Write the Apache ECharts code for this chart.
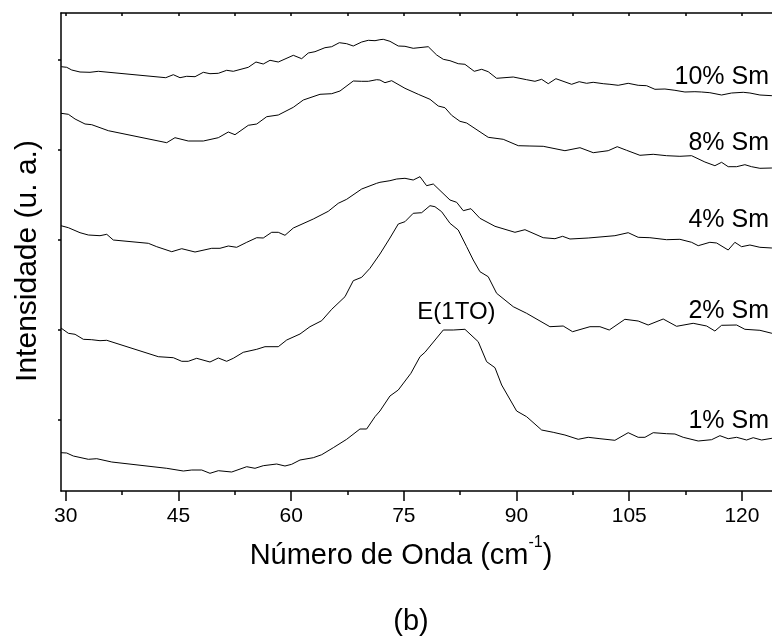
<!DOCTYPE html>
<html>
<head>
<meta charset="utf-8">
<script src="https://cdn.jsdelivr.net/npm/echarts@6/dist/echarts.min.js"></script>
<style>html,body{margin:0;padding:0;background:#fff}#c{width:772px;height:637px}</style>
</head>
<body>
<div id="c"></div>
<script>
// ---- data (x: wavenumber cm^-1, y: intensity a.u., curves offset vertically) ----
const sm10 = [[29.4,35.33],[30.13,35.27],[30.8,35.0],[31.9,34.8],[33.23,34.77],[34.34,34.87],[43.31,34.23],[44.32,34.53],[45.21,34.23],[46.1,34.37],[47.21,34.33],[48.31,34.77],[49.2,34.63],[50.31,34.67],[51.42,34.97],[52.3,34.87],[54.3,35.27],[55.32,35.8],[56.29,35.6],[57.19,35.97],[58.29,35.8],[60.29,36.47],[61.4,36.13],[62.28,36.7],[63.17,36.83],[64.5,37.23],[65.4,37.33],[66.41,37.73],[67.39,37.63],[68.27,37.4],[69.39,37.8],[70.27,37.97],[71.16,37.93],[71.82,38.03],[72.26,38.07],[73.15,37.87],[74.26,37.4],[75.15,37.37],[76.25,37.17],[78.25,37.33],[79.37,36.5],[80.25,36.07],[81.14,35.93],[82.24,35.63],[83.13,35.57],[84.37,34.87],[85.36,35.07],[86.23,34.83],[87.35,34.17],[89.56,34.3],[91.34,34.03],[92.45,33.87],[93.34,34.07],[94.22,33.63],[95.24,34.13],[97.33,33.57],[98.34,33.83],[99.33,33.67],[100.2,33.77],[101.54,33.63],[102.43,33.57],[103.53,33.47],[104.86,33.67],[106.19,33.47],[107.31,33.43],[108.42,33.07],[109.75,33.1],[111.08,32.97],[112.41,32.8],[113.74,32.83],[114.63,32.8],[115.73,32.73],[117.29,32.5],[118.62,32.7],[120.17,32.77],[121.06,32.7],[122.39,32.5],[123.99,32.43]];
const sm8 = [[29.37,30.67],[30.35,30.57],[31.24,30.1],[32.57,29.6],[33.46,29.53],[35.67,28.93],[43.44,27.73],[44.54,28.23],[46.31,27.9],[48.31,27.9],[50.31,28.23],[51.64,28.8],[52.53,28.53],[54.3,29.47],[55.42,29.6],[56.75,30.33],[58.29,30.5],[60.29,31.27],[61.62,32.0],[63.84,32.57],[65.4,32.63],[66.5,32.9],[68.27,33.9],[69.39,33.87],[70.27,33.87],[71.38,34.03],[71.82,34.0],[72.49,33.73],[73.38,33.93],[75.15,33.17],[76.92,32.57],[78.48,32.07],[79.58,31.4],[80.47,31.23],[81.36,30.47],[82.47,29.87],[83.36,29.7],[86.23,28.27],[88.23,28.07],[90.23,27.43],[91.78,27.4],[93.55,27.37],[96.44,26.93],[98.44,27.23],[100.21,26.73],[102.2,26.93],[103.4,27.33],[104.65,26.97],[106.42,26.47],[108.19,26.57],[109.97,26.43],[111.74,26.37],[113.3,26.43],[115.07,25.8],[116.4,25.43],[117.29,25.77],[118.17,25.33],[119.29,25.33],[120.39,25.53],[121.28,25.33],[122.39,25.17],[123.99,25.2]];
const sm4 = [[29.37,19.43],[30.35,19.23],[31.9,18.73],[33.01,18.5],[34.56,18.43],[35.46,18.57],[36.33,18.0],[40.99,17.67],[42.11,17.33],[44.11,16.83],[45.44,17.13],[47.21,16.8],[49.43,17.17],[50.53,17.17],[51.64,17.4],[52.75,17.27],[54.09,17.77],[55.42,18.23],[56.29,18.2],[57.41,18.77],[58.29,18.77],[59.18,18.47],[60.29,19.2],[62.95,20.1],[64.94,20.87],[66.27,21.67],[67.39,22.07],[69.39,23.1],[71.38,23.67],[71.82,23.77],[73.15,23.93],[74.05,24.1],[75.15,24.17],[76.25,24.0],[77.15,24.33],[78.03,23.43],[78.92,23.6],[81.14,22.0],[82.03,21.77],[82.91,20.93],[83.93,21.13],[85.13,20.17],[87.13,19.37],[89.79,18.77],[91.12,19.03],[93.55,18.23],[95.11,18.13],[96.13,18.37],[97.11,18.1],[99.54,18.2],[103.09,18.43],[104.86,18.73],[106.19,18.27],[107.75,18.23],[109.97,18.03],[111.74,18.07],[113.3,17.77],[114.18,17.43],[115.73,17.77],[116.63,17.7],[118.17,17.0],[119.06,17.77],[119.95,17.33],[121.06,17.5],[122.39,17.27],[123.99,17.2]];
const sm2 = [[29.37,9.2],[30.35,8.67],[31.24,8.57],[32.34,8.07],[33.46,8.03],[34.56,7.93],[35.46,7.97],[42.32,6.33],[44.32,6.23],[45.44,5.87],[46.31,5.87],[47.43,6.17],[49.2,5.8],[50.31,6.2],[51.42,5.87],[52.3,6.17],[53.63,6.77],[55.42,7.07],[56.52,7.33],[58.29,7.33],[59.41,8.0],[61.18,8.6],[62.51,9.33],[64.07,9.93],[65.4,11.07],[67.17,12.33],[68.27,13.93],[69.39,14.27],[70.49,15.17],[71.82,16.6],[73.15,18.2],[74.26,19.6],[75.15,19.83],[76.25,20.67],[77.37,20.73],[78.48,21.43],[79.14,21.33],[80.03,20.83],[81.14,19.67],[82.24,19.0],[83.36,17.33],[84.24,16.0],[85.13,14.83],[86.23,14.33],[87.35,12.67],[89.56,11.33],[91.34,10.67],[94.44,9.33],[96.21,9.4],[97.46,8.83],[99.77,9.33],[101.1,9.33],[102.34,9.0],[104.42,10.07],[106.19,9.9],[107.52,9.5],[109.52,10.1],[111.3,9.37],[113.51,9.67],[115.3,9.4],[116.4,8.9],[117.29,9.47],[119.29,9.5],[120.39,9.07],[122.39,8.97],[123.99,8.67]];
const sm1 = [[29.37,-3.27],[30.13,-3.3],[31.01,-3.6],[33.01,-3.93],[34.13,-3.87],[36.12,-4.2],[43.44,-4.83],[45.65,-5.1],[46.77,-5.0],[48.1,-5.0],[49.2,-5.33],[50.31,-5.07],[52.09,-5.2],[54.09,-4.67],[55.19,-4.83],[56.29,-4.57],[58.08,-4.4],[59.18,-4.6],[60.07,-4.43],[61.18,-4.0],[62.95,-3.77],[64.07,-3.47],[65.61,-2.77],[67.39,-1.93],[69.16,-0.9],[70.05,-0.9],[71.16,0.33],[71.82,0.9],[73.15,2.4],[74.26,3.0],[75.94,4.67],[77.15,6.33],[77.81,6.77],[80.25,9.0],[81.58,9.0],[83.13,9.07],[84.9,7.83],[86.02,5.83],[87.13,5.23],[88.02,3.5],[90.01,0.9],[91.34,0.33],[93.34,-1.0],[94.88,-1.23],[96.44,-1.5],[98.21,-1.93],[99.54,-1.73],[101.1,-1.87],[103.09,-2.03],[104.86,-1.27],[106.19,-1.73],[107.09,-1.73],[108.19,-1.27],[109.97,-1.37],[111.08,-1.4],[112.18,-1.73],[114.18,-2.1],[115.96,-1.97],[117.07,-1.57],[118.17,-1.87],[119.29,-1.73],[120.62,-2.0],[121.5,-1.77],[122.62,-2.0],[123.99,-1.83]];
const seriesNames = ['10% Sm','8% Sm','4% Sm','2% Sm','1% Sm'];
const labelCoords = [[123.6,34.3],[123.6,27.7],[123.6,20.0],[123.6,10.9],[123.6,-0.1]];
const peakLabel = 'E(1TO)';
const peakCoord = [82.0,10.75];
const xTicksMajor = [30,45,60,75,90,105,120];
const xTicksMinor = [37.5,52.5,67.5,82.5,97.5,112.5];
const xTicksTop = [30,37.5,45,52.5,60,67.5,75,82.5,90,97.5,105,112.5,120];
const yTicks = [0,9,18,27,36];
const xRange = [29.37,124];
const yRange = [-7.1,40.7];

const FONT = '"Liberation Sans", Arial, Helvetica, sans-serif';
const chart = echarts.init(document.getElementById('c'), null, {renderer:'canvas'});
const curves = [sm10, sm8, sm4, sm2, sm1];
const black = '#000';
const axisBase = {type:'value', min:xRange[0], max:xRange[1], splitLine:{show:false}};
const option = {
  animation:false,
  backgroundColor:'#fff',
  grid:{left:61, right:0, top:13, bottom:146, containLabel:false},
  xAxis:[
    Object.assign({}, axisBase, {position:'bottom',
      axisLine:{show:true, onZero:false, lineStyle:{color:black, width:1.5}},
      axisTick:{show:true, customValues:xTicksMajor, length:10, lineStyle:{color:black, width:1.5}},
      axisLabel:{show:true, customValues:xTicksMajor, fontSize:21, color:black, margin:15, fontFamily:FONT}}),
    Object.assign({}, axisBase, {position:'bottom', offset:0,
      axisLine:{show:false, onZero:false},
      axisTick:{show:true, customValues:xTicksMinor, length:4, lineStyle:{color:black, width:1.5}},
      axisLabel:{show:false}}),
    Object.assign({}, axisBase, {position:'top',
      axisLine:{show:true, onZero:false, lineStyle:{color:black, width:1.5}},
      axisTick:{show:true, inside:true, customValues:xTicksTop, length:3, lineStyle:{color:black, width:1.5}},
      axisLabel:{show:false}})
  ],
  yAxis:[{type:'value', min:yRange[0], max:yRange[1], position:'left',
    splitLine:{show:false},
    axisLine:{show:true, onZero:false, lineStyle:{color:black, width:1.5}},
    axisTick:{show:true, customValues:yTicks, length:3, lineStyle:{color:black, width:1.5}},
    axisLabel:{show:false}}],
  series: curves.map((d,i)=>({
    type:'line', name:seriesNames[i], data:d, xAxisIndex:0, yAxisIndex:0,
    showSymbol:false, symbol:'none', lineStyle:{color:black, width:1}, clip:true, z:3
  })).concat([{
    type:'scatter', xAxisIndex:0, yAxisIndex:0, symbolSize:0, silent:true, z:4,
    itemStyle:{opacity:1, color:black},
    data: seriesNames.map((n,i)=>({name:n, value:labelCoords[i],
      label:{show:true, position:'left', distance:0, formatter:'{b}', color:black, fontSize:25, fontFamily:FONT}}))
      .concat([{name:peakLabel, value:peakCoord,
      label:{show:true, position:'inside', formatter:'{b}', color:black, textBorderWidth:0, fontSize:24, fontFamily:FONT}}])
  }]),
  graphic:[
    {type:'text', x:27.5, y:261, rotation:Math.PI/2, style:{text:'Intensidade (u. a.)', font:'30px '+FONT, fill:black, textAlign:'center', textVerticalAlign:'middle'}},
    {type:'text', x:401, y:556, style:{text:'{a|Número de Onda (cm}{s|-1}{a|)}', fill:black, textAlign:'center', textVerticalAlign:'middle',
      rich:{a:{fontSize:29, fontFamily:FONT, fill:black, lineHeight:42}, s:{fontSize:16, fontFamily:FONT, fill:black, verticalAlign:'top', lineHeight:16}}}},
    {type:'text', x:411, y:622, style:{text:'(b)', font:'29px '+FONT, fill:black, textAlign:'center', textVerticalAlign:'middle'}}
  ]
};
chart.setOption(option);
</script>
</body>
</html>
